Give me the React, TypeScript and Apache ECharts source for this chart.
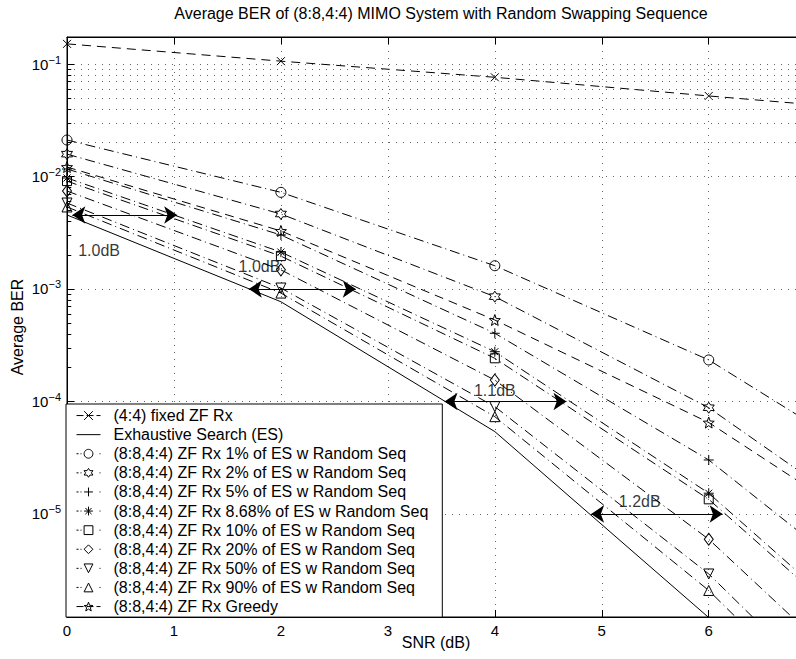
import React, { useEffect, useRef } from "react";
import * as echarts from "echarts";

// ---------- data ----------
const snr = [0, 2, 4, 6, 8];
const fixedZF = [0.151, 0.106, 0.0762, 0.052, 0.036];
const exhaustive = [4.55e-3, 7.7e-4, 5.4e-5, 1.2e-6, 1.4e-8];
const pct1 = [0.0211, 7.23e-3, 1.61e-3, 2.34e-4, 1.54e-5];
const pct2 = [0.0158, 4.64e-3, 8.55e-4, 8.8e-5, 4.1e-6];
const pct5 = [0.01166, 3.02e-3, 4.04e-4, 3.02e-5, 9.3e-7];
const pct868 = [9.7e-3, 2.13e-3, 2.77e-4, 1.53e-5, 3.2e-7];
const pct10 = [9.1e-3, 1.96e-3, 2.42e-4, 1.35e-5, 2.8e-7];
const pct20 = [7.43e-3, 1.48e-3, 1.55e-4, 5.96e-6, 1e-7];
const pct50 = [5.81e-3, 1.02e-3, 9.0e-5, 2.93e-6, 4e-8];
const pct90 = [5.36e-3, 9.2e-4, 7.33e-5, 2.09e-6, 2.8e-8];
const greedy = [0.01214, 3.28e-3, 5.3e-4, 6.5e-5, 3.7e-6];

const seriesNames = [
  "(4:4) fixed ZF Rx",
  "Exhaustive Search (ES)",
  "(8:8,4:4) ZF Rx 1% of ES w Random Seq",
  "(8:8,4:4) ZF Rx 2% of ES w Random Seq",
  "(8:8,4:4) ZF Rx 5% of ES w Random Seq",
  "(8:8,4:4) ZF Rx 8.68% of ES w Random Seq",
  "(8:8,4:4) ZF Rx 10% of ES w Random Seq",
  "(8:8,4:4) ZF Rx 20% of ES w Random Seq",
  "(8:8,4:4) ZF Rx 50% of ES w Random Seq",
  "(8:8,4:4) ZF Rx 90% of ES w Random Seq",
  "(8:8,4:4) ZF Rx Greedy",
];
const seriesValues = [fixedZF, exhaustive, pct1, pct2, pct5, pct868, pct10, pct20, pct50, pct90, greedy];

// annotations (gain arrows)
const arrowY = [4.55e-3, 1e-3, 1e-4, 1e-5];
const arrowX0 = [0.05, 1.7, 3.53, 4.9];
const arrowX1 = [1.03, 2.7, 4.67, 6.13];
const arrowLabels = ["1.0dB", "1.0dB", "1.1dB", "1.2dB"];
const labelX = [0.3, 1.8, 4.0, 5.355];
const labelY = [2.2e-3, 1.58e-3, 1.25e-4, 1.28e-5];

const titleText = "Average BER of (8:8,4:4) MIMO System with Random Swapping Sequence";
const xName = "SNR (dB)";
const yName = "Average BER";

const xMin = 0;
const xMax = 6.9;
const yMin = 1.214e-6;
const yMax = 0.1738;

// ---------- styling helpers ----------
function starPath(n: number, ratio: number) {
  let d = "";
  for (let k = 0; k < 2 * n; k++) {
    const r = k % 2 === 0 ? 10 : 10 * ratio;
    const a = -Math.PI / 2 + (k * Math.PI) / n;
    d += (k ? "L" : "M") + (r * Math.cos(a)).toFixed(3) + "," + (r * Math.sin(a)).toFixed(3);
  }
  return "path://" + d + "Z";
}
const SYM_X = "path://M0,0L10,10M10,0L0,10";
const SYM_PLUS = "path://M5,0L5,10M0,5L10,5";
const SYM_AST = "path://M5,0L5,10M0,5L10,5M1.5,1.5L8.5,8.5M8.5,1.5L1.5,8.5";
const SYM_DOWN = "path://M0,0L10,0L5,9Z";
const SYM_UP = "path://M5,0L10,9L0,9Z";
const SYM_HEX = starPath(6, 0.577);
const SYM_PENTA = starPath(5, 0.42);

const symbols = [SYM_X, "circle", "circle", SYM_HEX, SYM_PLUS, SYM_AST, "rect", "diamond", SYM_DOWN, SYM_UP, SYM_PENTA];
const symSizes: any[] = [8, 1, 10, 11, 10, 10, 9, [9, 12], 10, 10, 11];
const DASH = [9, 6];
const DASHDOT = [10, 4, 1, 4];
const LEG_DASH = [7, 3];
const LEG_DASHDOT = [2, 2, 1, 18];
const lineTypes: any[] = [DASH, "solid", DASHDOT, DASHDOT, DASHDOT, DASHDOT, DASHDOT, DASHDOT, DASHDOT, DASHDOT, DASH];
const legendLineTypes: any[] = [LEG_DASH, "solid", LEG_DASHDOT, LEG_DASHDOT, LEG_DASHDOT, LEG_DASHDOT, LEG_DASHDOT, LEG_DASHDOT, LEG_DASHDOT, LEG_DASHDOT, LEG_DASH];

const FONT = "Liberation Sans, Arial, Helvetica, sans-serif";
const CHART_W = 840;
const CHART_H = 659;

export default function App() {
  const ref = useRef<HTMLDivElement>(null);
  useEffect(() => {
    if (!ref.current) return;
    const chart = echarts.init(ref.current, undefined, { renderer: "svg" });

    const minorVals: number[] = [];
    for (let e = -7; e <= -1; e++) {
      for (let m = 2; m <= 9; m++) {
        const v = m * Math.pow(10, e);
        if (v > yMin && v < yMax) minorVals.push(v);
      }
    }

    const dataSeries = seriesNames.map((name, i) => ({
      name,
      type: "line",
      xAxisIndex: 0,
      yAxisIndex: 0,
      data: snr.map((x, j) => [x, seriesValues[i][j]]),
      symbol: symbols[i],
      symbolSize: symSizes[i],
      showSymbol: i !== 1,
      clip: true,
      z: 3,
      lineStyle: { color: "#000", width: 1, type: lineTypes[i] },
      itemStyle: { color: "none", borderColor: i === 1 ? "none" : "#000", borderWidth: i === 1 ? 0 : 1 },
      emphasis: { disabled: true },
    }));

    const option: any = {
      animation: false,
      textStyle: { fontFamily: FONT, color: "#000" },
      title: {
        text: titleText,
        left: 436,
        textAlign: "center",
        top: 0,
        textStyle: { fontSize: 16, fontWeight: "normal", color: "#000", fontFamily: FONT },
      },
      grid: {
        left: 67,
        top: 37,
        right: CHART_W - 805,
        bottom: CHART_H - 617,
        outerBoundsMode: "none",
        containLabel: false,
        show: true,
        borderColor: "#000",
        borderWidth: 1,
        backgroundColor: "transparent",
      },
      legend: {
        orient: "vertical",
        left: 66,
        top: 404,
        itemWidth: 24,
        itemHeight: 11,
        itemGap: 0,
        padding: [2, 14, 1, 10],
        backgroundColor: "#fff",
        borderColor: "#000",
        borderWidth: 1,
        selectedMode: false,
        itemStyle: { borderWidth: 1 },
        data: seriesNames.map((n, i) => ({
          name: n,
          lineStyle: { type: legendLineTypes[i], color: "#000", width: 1 },
        })),
        textStyle: { fontSize: 16, fontFamily: FONT, color: "#000", lineHeight: 19.1, padding: [0, 0, 0, 8] },
        z: 6,
      },
      xAxis: [
        {
          type: "value",
          position: "bottom",
          min: xMin,
          max: xMax,
          interval: 1,
          axisLine: { show: true, lineStyle: { color: "#000", width: 1 } },
          axisTick: { show: true, inside: true, length: 7, lineStyle: { color: "#000" } },
          axisLabel: {
            fontSize: 15,
            color: "#000",
            margin: 6,
            fontFamily: FONT,
            formatter: (v: number) => (Number.isInteger(v) ? String(v) : ""),
          },
          splitLine: { show: true, lineStyle: { color: "#666", type: [1, 6], width: 1 } },
          name: xName,
          nameLocation: "middle",
          nameGap: 17,
          nameMoveOverlap: false,
          nameTextStyle: { fontSize: 16, color: "#000", fontFamily: FONT },
        },
        {
          type: "value",
          position: "top",
          min: xMin,
          max: xMax,
          interval: 1,
          axisLine: { show: true, lineStyle: { color: "#000", width: 1 } },
          axisTick: { show: true, inside: true, length: 7, lineStyle: { color: "#000" } },
          axisLabel: { show: false },
          splitLine: { show: false },
        },
      ],
      yAxis: [
        {
          type: "log",
          logBase: 10,
          min: yMin,
          max: yMax,
          axisLine: { show: true, lineStyle: { color: "#000", width: 1 } },
          axisTick: { show: true, inside: true, length: 7, lineStyle: { color: "#000" } },
          axisLabel: {
            margin: 6,
            color: "#000",
            fontFamily: FONT,
            formatter: (v: number) => {
              const e = Math.log10(v);
              const r = Math.round(e);
              if (Math.abs(e - r) > 1e-6) return "";
              return "{b|10}{s|" + (r < 0 ? "\u2212" : "") + Math.abs(r) + "}";
            },
            rich: {
              b: { fontSize: 15, fontFamily: FONT, color: "#000" },
              s: { fontSize: 11, fontFamily: FONT, color: "#000", padding: [0, 0, 9, 0] },
            },
          },
          splitLine: { show: true, lineStyle: { color: "#666", type: [1, 6], width: 1 } },
          name: yName,
          nameLocation: "middle",
          nameGap: 42,
          nameMoveOverlap: false,
          nameRotate: 90,
          nameTextStyle: { fontSize: 16, color: "#000", fontFamily: FONT },
        },
      ],
      series: [
        {
          name: "__minorgrid",
          type: "line",
          data: [],
          z: 1,
          silent: true,
          markLine: {
            silent: true,
            symbol: ["none", "none"],
            label: { show: false },
            lineStyle: { color: "#666", type: [1, 6], width: 1 },
            emphasis: { disabled: true },
            data: minorVals.map((v) => ({ yAxis: v })),
          },
        },
        {
          name: "__minorticks",
          type: "line",
          data: [],
          z: 2,
          silent: true,
          markLine: {
            silent: true,
            symbol: ["none", "none"],
            label: { show: false },
            lineStyle: { color: "#000", type: "solid", width: 1 },
            emphasis: { disabled: true },
            data: minorVals.map((v) => [{ coord: [0, v] }, { coord: [0.04, v] }]),
          },
        },
        ...dataSeries,
        {
          name: "__arrows",
          type: "line",
          data: [],
          z: 5,
          silent: true,
          markLine: {
            silent: true,
            symbol: ["arrow", "arrow"],
            symbolSize: 13,
            label: { show: false },
            lineStyle: { color: "#000", type: "solid", width: 1 },
            itemStyle: { color: "#000" },
            emphasis: { disabled: true },
            data: arrowY.map((y, i) => [{ coord: [arrowX0[i], y] }, { coord: [arrowX1[i], y] }]),
          },
        },
        {
          name: "__arrowlabels",
          type: "scatter",
          z: 6,
          silent: true,
          symbolSize: 1,
          itemStyle: { color: "transparent" },
          data: labelX.map((x, i) => ({ value: [x, labelY[i]], name: arrowLabels[i] })),
          label: {
            show: true,
            position: "inside",
            formatter: (p: any) => p.name,
            fontSize: 16,
            color: "#000",
            fontFamily: FONT,
          },
        },
      ],
    };

    chart.setOption(option);
    return () => chart.dispose();
  }, []);

  return (
    <div style={{ position: "fixed", left: 0, top: 0, width: 796, height: 659, overflow: "hidden", background: "#fff" }}>
      <div ref={ref} style={{ width: CHART_W, height: CHART_H }} />
    </div>
  );
}
